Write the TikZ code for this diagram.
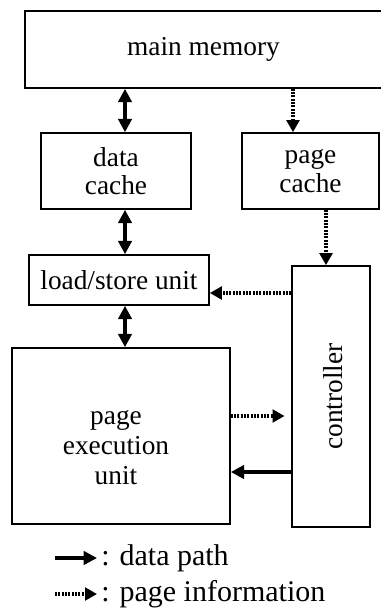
\documentclass[tikz,border=0pt]{standalone}
\usepackage{fontspec}
\setmainfont{Liberation Serif}
\usetikzlibrary{arrows.meta}

\tikzset{
	box/.style={draw, line width=1.2pt, inner sep=0pt, align=center},
	datapath/.style={line width=3pt, -{Triangle[length=10pt,width=10pt]}},
	datapaths/.style={line width=3pt, {Triangle[length=10pt,width=10pt]}-{Triangle[length=10pt,width=10pt]}},
	pageinfo/.style={line width=3pt, dash pattern=on 1.4pt off 1.1pt, -{Triangle[length=9pt,width=9.5pt]}},
	legendtext/.style={anchor=west, inner sep=0pt, font=\fontsize{22.5}{25}\selectfont},
}

\begin{document}
\begin{tikzpicture}[x=0.75pt,y=0.75pt,yscale=-1,xscale=1,font=\fontsize{20.5}{21.5}\selectfont]
	\useasboundingbox (0,0) rectangle (381,612);
	
	%Boxes
	\node[box, minimum width=267.75pt, minimum height=57.75pt] (mainmem) at (203.5,49.5) {main memory};
	\node[box, minimum width=112.5pt, minimum height=57pt] (datacache) at (116,171) {data\\cache};
	\node[box, minimum width=102.75pt, minimum height=57pt] (pagecache) at (310.5,171) {page\\cache};
	\node[box, minimum width=135pt, minimum height=37.5pt] (lsu) at (119,280) {load/store unit};
	\node[box, minimum width=58.5pt, minimum height=195.75pt] (ctrl) at (331,396.5) {};
	\node[box, minimum width=163.5pt, minimum height=132pt] (peu) at (121,436) {};
	
	% Text Node
	\node[rotate=90] (ctrltext) at ([xshift=1.5pt]ctrl.center) {controller};
	% Text Node
	\node[align=center, font=\fontsize{20.5}{22.5}\selectfont] (peutext) at ([xshift=-3.75pt, yshift=9pt]peu.center) {page\\execution\\unit};
	
	%Connector positions
	\coordinate (dx) at (125,0);
	\coordinate (px) at (293,0);
	\coordinate (cx) at (326,0);
	\coordinate (ly) at (0,293);
	\coordinate (py) at (0,416);
	\coordinate (dy) at (0,472);
	
	%Data paths
	\draw[datapaths] (mainmem.south -| dx) -- (datacache.north -| dx);
	\draw[datapaths] (datacache.south -| dx) -- (lsu.north -| dx);
	\draw[datapaths] (lsu.south -| dx) -- (peu.north -| dx);
	\draw[datapath] (ctrl.west |- dy) -- (peu.east |- dy);
	
	%Page information
	\draw[pageinfo] (mainmem.south -| px) -- (pagecache.north -| px);
	\draw[pageinfo] (pagecache.south -| cx) -- (ctrl.north -| cx);
	\draw[pageinfo] (ctrl.west |- ly) -- (lsu.east |- ly);
	\draw[pageinfo] (peu.east |- py) -- ([xshift=-5pt]ctrl.west |- py);
	
	%Legend
	\node[legendtext] (lgdata) at (101,558) {: data path};
	\node[legendtext] (lgpage) at (101,594) {: page information};
	\draw[datapath] ([xshift=-34.5pt]lgdata.west) -- ([xshift=-3pt]lgdata.west);
	\draw[pageinfo] ([xshift=-34.5pt]lgpage.west) -- ([xshift=-3pt]lgpage.west);
	
\end{tikzpicture}
\end{document}
